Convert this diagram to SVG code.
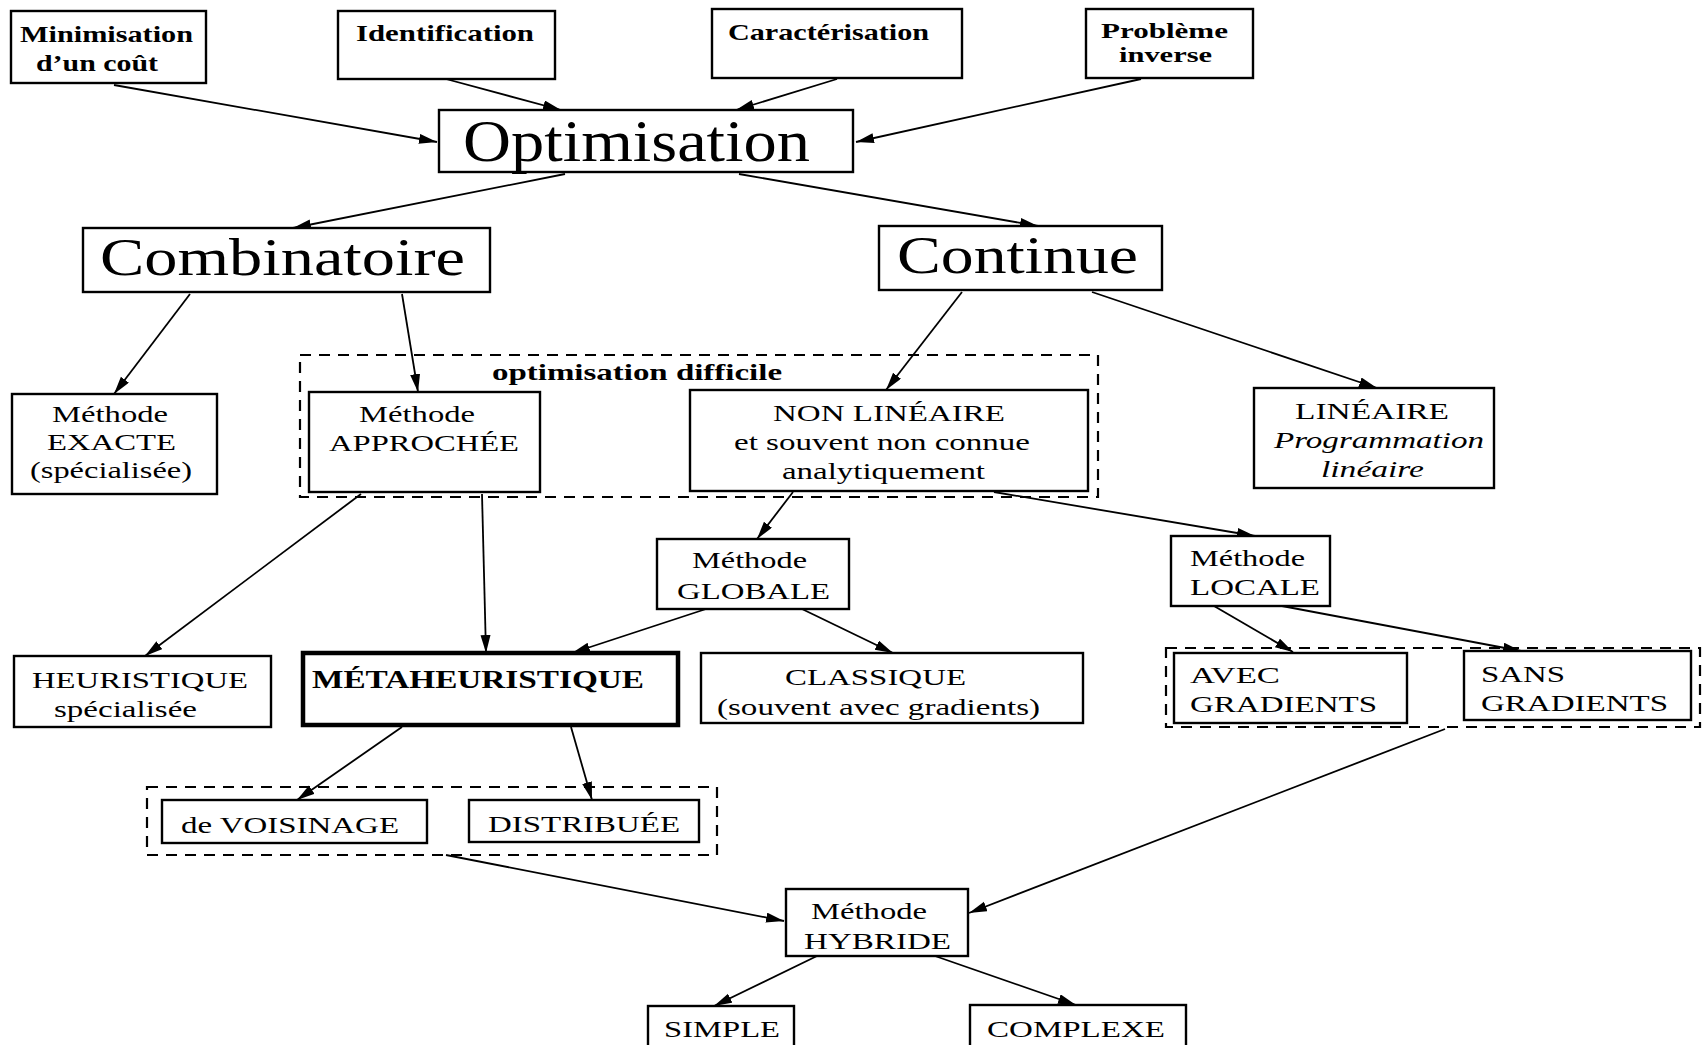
<svg xmlns="http://www.w3.org/2000/svg" width="1704" height="1045" viewBox="0 0 1704 1045">
  <style>
    .box { fill: #ffffff; stroke: #000000; stroke-width: 2.4; }
    .bold-box { fill: #ffffff; stroke: #000000; stroke-width: 4.5; }
    .group { fill: none; stroke: #000000; stroke-width: 2.2; stroke-dasharray: 11 8; }
    .edge { fill: none; stroke: #000000; stroke-width: 1.8; marker-end: url(#arrow); }
    text { font-family: "Liberation Serif", "Times New Roman", serif; fill: #000000; }
    .t { font-size: 24px; }
    .tb { font-size: 24px; font-weight: bold; }
    .ts { font-size: 20px; font-weight: bold; }
    .ti { font-size: 24px; font-style: italic; }
    .tbb { font-size: 26px; font-weight: bold; }
    .big { font-size: 60px; }
    .mid { font-size: 52px; }
  </style>
  <defs>
    <marker id="arrow" markerUnits="userSpaceOnUse" markerWidth="20" markerHeight="12" refX="18" refY="5" orient="auto">
      <path d="M0,0 L18,5 L0,10 z" fill="#000000"/>
    </marker>
  </defs>

  <rect width="1704" height="1045" fill="#ffffff"/>

  <!-- dashed groupings -->
  <g id="groups">
    <rect id="group-difficile" class="group" x="300" y="355" width="798" height="142"/>
    <rect id="group-gradients" class="group" x="1166" y="648" width="534" height="79"/>
    <rect id="group-meta" class="group" x="147" y="787" width="570" height="68"/>
  </g>

  <!-- connectors -->
  <g id="connectors">
    <line class="edge" x1="114" y1="85" x2="437" y2="142"/>
    <line class="edge" x1="446" y1="79" x2="561" y2="110"/>
    <line class="edge" x1="837" y1="79" x2="736" y2="110"/>
    <line class="edge" x1="1141" y1="79" x2="856" y2="142"/>
    <line class="edge" x1="565" y1="174" x2="293" y2="228"/>
    <line class="edge" x1="739" y1="174" x2="1038" y2="226"/>
    <line class="edge" x1="190" y1="294" x2="114" y2="394"/>
    <line class="edge" x1="402" y1="294" x2="418" y2="392"/>
    <line class="edge" x1="962" y1="292" x2="886" y2="390"/>
    <line class="edge" x1="1092" y1="292" x2="1377" y2="388"/>
    <line class="edge" x1="361" y1="494" x2="145" y2="656"/>
    <line class="edge" x1="482" y1="494" x2="486" y2="653"/>
    <line class="edge" x1="793" y1="492" x2="757" y2="539"/>
    <line class="edge" x1="994" y1="492" x2="1255" y2="536"/>
    <line class="edge" x1="706" y1="609" x2="572" y2="653"/>
    <line class="edge" x1="802" y1="609" x2="893" y2="653"/>
    <line class="edge" x1="1214" y1="606" x2="1293" y2="652"/>
    <line class="edge" x1="1282" y1="606" x2="1521" y2="651"/>
    <line class="edge" x1="402" y1="727" x2="297" y2="800"/>
    <line class="edge" x1="571" y1="727" x2="592" y2="800"/>
    <line class="edge" x1="446" y1="855" x2="784" y2="921"/>
    <line class="edge" x1="1445" y1="729" x2="969" y2="913"/>
    <line class="edge" x1="817" y1="956" x2="714" y2="1006"/>
    <line class="edge" x1="935" y1="956" x2="1076" y2="1005"/>
  </g>

  <!-- nodes -->
  <g id="n-minimisation">
    <rect class="box" x="11" y="11" width="195" height="72"/>
    <text class="tb" x="20" y="42" textLength="173" lengthAdjust="spacingAndGlyphs">Minimisation</text>
    <text class="tb" x="36" y="71" textLength="122" lengthAdjust="spacingAndGlyphs">d’un coût</text>
  </g>
  <g id="n-identification">
    <rect class="box" x="338" y="11" width="217" height="68"/>
    <text class="tb" x="356" y="41" textLength="178" lengthAdjust="spacingAndGlyphs">Identification</text>
  </g>
  <g id="n-caracterisation">
    <rect class="box" x="712" y="9" width="250" height="69"/>
    <text class="tb" x="728" y="40" textLength="201" lengthAdjust="spacingAndGlyphs">Caractérisation</text>
  </g>
  <g id="n-probleme">
    <rect class="box" x="1086" y="9" width="167" height="69"/>
    <text class="ts" x="1101" y="38" textLength="127" lengthAdjust="spacingAndGlyphs">Problème</text>
    <text class="ts" x="1119" y="62" textLength="93" lengthAdjust="spacingAndGlyphs">inverse</text>
  </g>
  <g id="n-optimisation">
    <rect class="box" x="439" y="110" width="414" height="62"/>
    <text class="big" x="463" y="161" textLength="347" lengthAdjust="spacingAndGlyphs">Optimisation</text>
  </g>
  <g id="n-combinatoire">
    <rect class="box" x="83" y="228" width="407" height="64"/>
    <text class="mid" x="100" y="275" textLength="365" lengthAdjust="spacingAndGlyphs">Combinatoire</text>
  </g>
  <g id="n-continue">
    <rect class="box" x="879" y="226" width="283" height="64"/>
    <text class="mid" x="897" y="273" textLength="241" lengthAdjust="spacingAndGlyphs">Continue</text>
  </g>
  <g id="n-difficile-label">
    <text class="tb" x="492" y="380" textLength="290" lengthAdjust="spacingAndGlyphs">optimisation difficile</text>
  </g>
  <g id="n-exacte">
    <rect class="box" x="12" y="394" width="205" height="100"/>
    <text class="t" x="52" y="422" textLength="116" lengthAdjust="spacingAndGlyphs">Méthode</text>
    <text class="t" x="47" y="450" textLength="129" lengthAdjust="spacingAndGlyphs">EXACTE</text>
    <text class="t" x="30" y="478" textLength="162" lengthAdjust="spacingAndGlyphs">(spécialisée)</text>
  </g>
  <g id="n-approchee">
    <rect class="box" x="309" y="392" width="231" height="100"/>
    <text class="t" x="359" y="422" textLength="116" lengthAdjust="spacingAndGlyphs">Méthode</text>
    <text class="t" x="329" y="451" textLength="190" lengthAdjust="spacingAndGlyphs">APPROCHÉE</text>
  </g>
  <g id="n-nonlineaire">
    <rect class="box" x="690" y="390" width="398" height="101"/>
    <text class="t" x="773" y="421" textLength="232" lengthAdjust="spacingAndGlyphs">NON LINÉAIRE</text>
    <text class="t" x="734" y="450" textLength="296" lengthAdjust="spacingAndGlyphs">et souvent non connue</text>
    <text class="t" x="782" y="479" textLength="203" lengthAdjust="spacingAndGlyphs">analytiquement</text>
  </g>
  <g id="n-lineaire">
    <rect class="box" x="1254" y="388" width="240" height="100"/>
    <text class="t" x="1295" y="419" textLength="154" lengthAdjust="spacingAndGlyphs">LINÉAIRE</text>
    <text class="ti" x="1274" y="448" textLength="210" lengthAdjust="spacingAndGlyphs">Programmation</text>
    <text class="ti" x="1321" y="477" textLength="103" lengthAdjust="spacingAndGlyphs">linéaire</text>
  </g>
  <g id="n-globale">
    <rect class="box" x="657" y="539" width="192" height="70"/>
    <text class="t" x="692" y="568" textLength="115" lengthAdjust="spacingAndGlyphs">Méthode</text>
    <text class="t" x="677" y="599" textLength="153" lengthAdjust="spacingAndGlyphs">GLOBALE</text>
  </g>
  <g id="n-locale">
    <rect class="box" x="1171" y="536" width="159" height="70"/>
    <text class="t" x="1190" y="566" textLength="115" lengthAdjust="spacingAndGlyphs">Méthode</text>
    <text class="t" x="1190" y="595" textLength="130" lengthAdjust="spacingAndGlyphs">LOCALE</text>
  </g>
  <g id="n-heuristique">
    <rect class="box" x="14" y="656" width="257" height="71"/>
    <text class="t" x="32" y="688" textLength="216" lengthAdjust="spacingAndGlyphs">HEURISTIQUE</text>
    <text class="t" x="54" y="717" textLength="143" lengthAdjust="spacingAndGlyphs">spécialisée</text>
  </g>
  <g id="n-metaheuristique">
    <rect class="bold-box" x="303" y="653" width="375" height="72"/>
    <text class="tbb" x="312" y="688" textLength="332" lengthAdjust="spacingAndGlyphs">MÉTAHEURISTIQUE</text>
  </g>
  <g id="n-classique">
    <rect class="box" x="701" y="653" width="382" height="70"/>
    <text class="t" x="785" y="685" textLength="181" lengthAdjust="spacingAndGlyphs">CLASSIQUE</text>
    <text class="t" x="717" y="715" textLength="323" lengthAdjust="spacingAndGlyphs">(souvent avec gradients)</text>
  </g>
  <g id="n-avec">
    <rect class="box" x="1174" y="653" width="233" height="70"/>
    <text class="t" x="1190" y="683" textLength="90" lengthAdjust="spacingAndGlyphs">AVEC</text>
    <text class="t" x="1190" y="712" textLength="187" lengthAdjust="spacingAndGlyphs">GRADIENTS</text>
  </g>
  <g id="n-sans">
    <rect class="box" x="1464" y="651" width="227" height="69"/>
    <text class="t" x="1481" y="682" textLength="84" lengthAdjust="spacingAndGlyphs">SANS</text>
    <text class="t" x="1481" y="711" textLength="187" lengthAdjust="spacingAndGlyphs">GRADIENTS</text>
  </g>
  <g id="n-voisinage">
    <rect class="box" x="162" y="800" width="265" height="43"/>
    <text class="t" x="181" y="833" textLength="218" lengthAdjust="spacingAndGlyphs">de VOISINAGE</text>
  </g>
  <g id="n-distribuee">
    <rect class="box" x="469" y="800" width="230" height="42"/>
    <text class="t" x="488" y="832" textLength="192" lengthAdjust="spacingAndGlyphs">DISTRIBUÉE</text>
  </g>
  <g id="n-hybride">
    <rect class="box" x="786" y="889" width="182" height="67"/>
    <text class="t" x="811" y="919" textLength="116" lengthAdjust="spacingAndGlyphs">Méthode</text>
    <text class="t" x="804" y="949" textLength="147" lengthAdjust="spacingAndGlyphs">HYBRIDE</text>
  </g>
  <g id="n-simple">
    <rect class="box" x="648" y="1006" width="146" height="50"/>
    <text class="t" x="664" y="1037" textLength="116" lengthAdjust="spacingAndGlyphs">SIMPLE</text>
  </g>
  <g id="n-complexe">
    <rect class="box" x="970" y="1005" width="216" height="50"/>
    <text class="t" x="987" y="1037" textLength="178" lengthAdjust="spacingAndGlyphs">COMPLEXE</text>
  </g>
</svg>
